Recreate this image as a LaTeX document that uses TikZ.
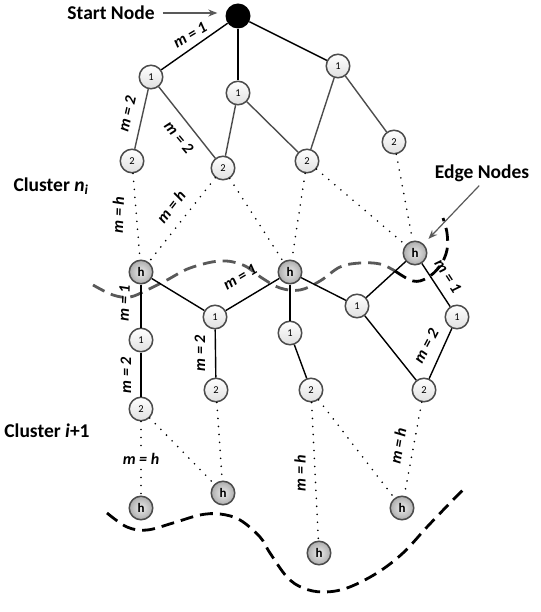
\documentclass[tikz,border=0pt]{standalone}
\usepackage{fontspec}
\setmainfont{Carlito}
\usetikzlibrary{arrows.meta}
\begin{document}
\begin{tikzpicture}[x=1pt,y=-1pt,
  nd/.style={circle,draw=black!70,line width=1.5pt,minimum size=23.5pt,inner sep=0pt,top color=white,bottom color=black!12,font=\fontsize{10.5}{10.5}\selectfont},
  hn/.style={circle,draw=black!70,line width=1.5pt,minimum size=23.5pt,inner sep=0pt,inner color=black!8,outer color=black!32,font=\bfseries\fontsize{13}{13}\selectfont},
  st/.style={circle,fill=black,minimum size=25pt,inner sep=0pt},
  edg/.style={line width=1.4pt,black},
  gedg/.style={line width=1.4pt,black!70},
  dotl/.style={line width=1.8pt,dash pattern=on 0pt off 8pt,line cap=round},
  lab/.style={font=\bfseries\itshape\fontsize{16}{16}\selectfont,inner sep=0pt},
  big/.style={font=\bfseries\fontsize{19.5}{20}\selectfont,inner sep=1pt},
  ptr/.style={-{Stealth[length=9pt,width=7pt]},line width=1.2pt,black!65},
  gcurve/.style={line width=2.8pt,black!65,dash pattern=on 13pt off 7pt},
  bcurve/.style={line width=2.8pt,black,dash pattern=on 13pt off 7pt}
]
\useasboundingbox (0,0) rectangle (540,612);

% dashed cluster borders
\draw[gcurve] plot[smooth,tension=0.6] coordinates {(93,285) (113,295) (130,297) (147,290) (167,280) (190,268) (220,261) (243,265) (262,278) (280,288) (300,290) (320,281) (340,267) (360,263) (380,264) (395,271)};
\draw[bcurve] plot[smooth,tension=0.6] coordinates {(395,271) (413,281) (427,278) (440,266) (447,250) (447,233) (443,218)};
\draw[bcurve] plot[smooth,tension=0.6] coordinates {(107,513) (127,527) (147,530) (173,523) (200,515) (220,514) (240,520) (260,537) (270,553) (287,577) (303,588) (323,592) (347,588) (377,573) (403,553) (427,527) (450,503) (465,488)};

% nodes
\node[st] (s) at (238,16) {};
\node[nd] (a1) at (151,77) {1};
\node[nd] (b1) at (238,93) {1};
\node[nd] (c1) at (338,66) {1};
\node[nd] (a2) at (132,161) {2};
\node[nd] (b2) at (223,168) {2};
\node[nd] (c2) at (307,161) {2};
\node[nd] (d2) at (394,142) {2};
\node[hn] (h1) at (141,272) {h};
\node[hn] (h2) at (290,272) {h};
\node[hn] (h3) at (415,253) {h};
\node[nd] (e1) at (141,340) {1};
\node[nd] (f1) at (215,317) {1};
\node[nd] (g1) at (290,333) {1};
\node[nd] (i1) at (357,306) {1};
\node[nd] (j1) at (457,317) {1};
\node[nd] (e2) at (141,409) {2};
\node[nd] (f2) at (216,390) {2};
\node[nd] (g2) at (311,390) {2};
\node[nd] (j2) at (424,390) {2};
\node[hn] (p) at (141,508) {h};
\node[hn] (q) at (223,493) {h};
\node[hn] (r) at (319,553) {h};
\node[hn] (t) at (402,508) {h};

% solid edges
\draw[edg] (s) -- (a1);
\draw[edg] (s) -- (b1);
\draw[edg] (s) -- (c1);
\draw[gedg] (a1) -- (a2);
\draw[gedg] (a1) -- (b2);
\draw[gedg] (b1) -- (b2);
\draw[gedg] (b1) -- (c2);
\draw[gedg] (c1) -- (c2);
\draw[gedg] (c1) -- (d2);
\draw[edg] (h1) -- (e1);
\draw[edg] (e1) -- (e2);
\draw[edg] (h1) -- (f1);
\draw[edg] (h2) -- (f1);
\draw[edg] (f1) -- (f2);
\draw[edg] (h2) -- (g1);
\draw[edg] (g1) -- (g2);
\draw[edg] (h2) -- (i1);
\draw[edg] (h3) -- (i1);
\draw[edg] (h3) -- (j1);
\draw[edg] (i1) -- (j2);
\draw[edg] (j1) -- (j2);

% dotted edges
\draw[dotl] (a2) -- (h1);
\draw[dotl] (b2) -- (h1);
\draw[dotl] (b2) -- (h2);
\draw[dotl] (c2) -- (h2);
\draw[dotl] (c2) -- (h3);
\draw[dotl] (d2) -- (h3);
\draw[dotl] (e2) -- (p);
\draw[dotl] (e2) -- (q);
\draw[dotl] (f2) -- (q);
\draw[dotl] (g2) -- (r);
\draw[dotl] (g2) -- (t);
\draw[dotl] (j2) -- (t);

% edge labels
\node[lab,rotate=31] (l1) at (190,35) {m = 1};
\node[lab,rotate=77] (l2) at (127,114) {m = 2};
\node[lab,rotate=-50] (l3) at (179,137) {m = 2};
\node[lab,rotate=88] (l4) at (118,215) {m = h};
\node[lab,rotate=52] (l5) at (171,207) {m = h};
\node[lab,rotate=88] (l6) at (124,303) {m = 1};
\node[lab,rotate=31] (l7) at (240,277) {m = 1};
\node[lab,rotate=-57] (l8) at (448,276) {m = 1};
\node[lab,rotate=90] (l9) at (126,375) {m = 2};
\node[lab,rotate=90] (l10) at (200,353) {m = 2};
\node[lab,rotate=62] (l11) at (426,346) {m = 2};
\node[lab,fill=white,inner sep=1pt] (l12) at (141,459) {m = h};
\node[lab,rotate=90] (l13) at (300,473) {m = h};
\node[lab,rotate=80] (l14) at (398,446) {m = h};

% titles
\node[big] (sn) at (111,13) {Start Node};
\draw[ptr,shorten <=7pt,shorten >=8pt] (sn.east) -- (sn.east -| s.west);
\node[big] (en) at (482,173) {Edge Nodes};
\draw[ptr,shorten <=4pt,shorten >=7pt] (en.south) -- (h3);
\node[big] (cn) at (51,186) {Cluster \textit{n}\textsubscript{\textit{i}}};
\node[big] (ci) at (47,431) {Cluster \textit{i}+1};
\end{tikzpicture}
\end{document}
